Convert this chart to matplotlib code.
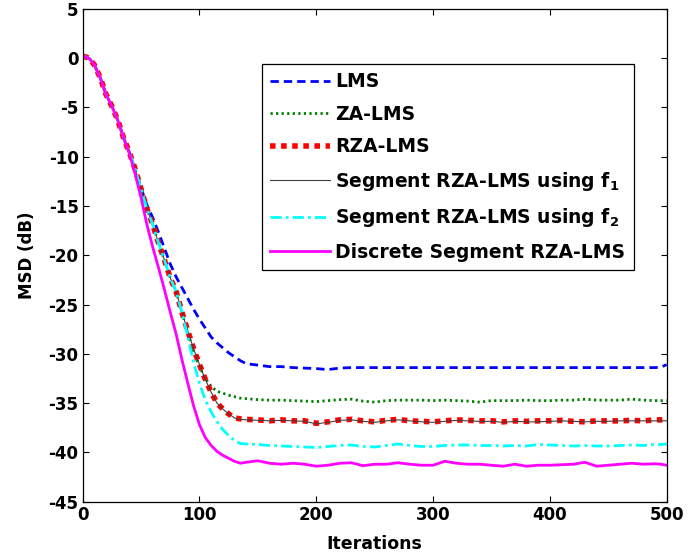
import matplotlib
matplotlib.use("Agg")
import matplotlib.pyplot as plt

plt.rcParams['font.family'] = ['DejaVu Sans']
plt.rcParams['font.weight'] = 'bold'
plt.rcParams['axes.unicode_minus'] = False
plt.rcParams['mathtext.fontset'] = 'custom'
plt.rcParams['mathtext.rm'] = 'DejaVu Sans:bold'
plt.rcParams['mathtext.bf'] = 'DejaVu Sans:bold'
plt.rcParams['mathtext.it'] = 'DejaVu Sans:bold'

iters = [0, 3, 6, 10, 15, 20, 25, 30, 35, 40, 45, 50, 55, 60, 65, 70, 75, 80, 85, 90,
         95, 100, 105, 110, 115, 120, 125, 130, 135, 140, 150, 160, 170, 180, 190, 200,
         210, 220, 230, 240, 250, 260, 270, 280, 290, 300, 310, 320, 330, 340, 350, 360,
         370, 380, 390, 400, 410, 420, 430, 440, 450, 460, 470, 480, 490, 495, 500]

early = [0.15, 0.1, -0.1, -0.7, -2.0, -3.7, -4.9, -6.3, -8.1, -9.6, -11.3]

lms = early + [-13.2, -14.9, -16.2, -17.7, -19.3, -20.9, -22.2, -23.3, -24.4,
               -25.5, -26.5, -27.4, -28.3, -28.9, -29.4, -29.9, -30.3, -30.7, -31.0,
               -31.15, -31.3, -31.3, -31.4, -31.45, -31.5, -31.6, -31.45, -31.4, -31.4,
               -31.4, -31.4, -31.4, -31.4, -31.4, -31.4, -31.4, -31.4, -31.4, -31.4,
               -31.4, -31.4, -31.4, -31.4, -31.4, -31.4, -31.4, -31.4, -31.4, -31.4,
               -31.4, -31.4, -31.4, -31.4, -31.4, -31.35, -31.1]

za_lms = early + [-13.3, -15.3, -16.9, -18.8, -20.5, -22.3, -23.7, -25.8, -27.9,
                  -29.8, -31.3, -32.5, -33.3, -33.8, -34.0, -34.2, -34.35, -34.5, -34.55,
                  -34.65, -34.7, -34.7, -34.75, -34.8, -34.85, -34.75, -34.65, -34.6, -34.8,
                  -34.9, -34.75, -34.7, -34.7, -34.7, -34.75, -34.7, -34.75, -34.8, -34.9,
                  -34.75, -34.75, -34.75, -34.7, -34.75, -34.75, -34.7, -34.7, -34.6, -34.7,
                  -34.7, -34.7, -34.6, -34.7, -34.75, -34.75, -34.75]

rza_lms = early + [-13.3, -15.3, -16.9, -18.8, -20.5, -22.3, -23.7, -25.8, -27.7,
                   -29.5, -31.1, -32.6, -33.9, -35.0, -35.6, -36.1, -36.5, -36.6, -36.65,
                   -36.7, -36.8, -36.7, -36.8, -36.8, -37.05, -36.9, -36.7, -36.65, -36.8,
                   -36.9, -36.75, -36.65, -36.8, -36.85, -36.9, -36.8, -36.7, -36.75, -36.8,
                   -36.8, -36.9, -36.8, -36.85, -36.8, -36.8, -36.75, -36.85, -36.9, -36.8,
                   -36.8, -36.8, -36.75, -36.8, -36.7, -36.7, -36.65]

seg_f1 = early + [-13.3, -15.3, -16.9, -18.8, -20.5, -22.3, -23.7, -25.8, -27.7,
                  -29.5, -31.1, -32.6, -33.9, -35.0, -35.6, -36.1, -36.5, -36.65, -36.7,
                  -36.75, -36.8, -36.75, -36.8, -36.85, -37.1, -36.95, -36.75, -36.7, -36.85,
                  -36.95, -36.8, -36.7, -36.8, -36.9, -36.95, -36.85, -36.75, -36.8, -36.85,
                  -36.85, -36.95, -36.85, -36.9, -36.9, -36.85, -36.8, -36.85, -36.9, -36.85,
                  -36.85, -36.8, -36.8, -36.8, -36.8, -36.8, -36.8]

seg_f2 = early + [-13.3, -15.3, -16.9, -18.8, -20.5, -22.3, -23.7, -25.8, -28.3,
                  -30.9, -33.0, -34.7, -35.9, -36.9, -37.7, -38.3, -38.8, -39.1, -39.15,
                  -39.2, -39.3, -39.35, -39.4, -39.45, -39.5, -39.4, -39.3, -39.25, -39.4,
                  -39.45, -39.3, -39.15, -39.3, -39.4, -39.4, -39.3, -39.25, -39.25, -39.3,
                  -39.3, -39.35, -39.3, -39.35, -39.2, -39.25, -39.3, -39.35, -39.3, -39.35,
                  -39.35, -39.3, -39.25, -39.3, -39.2, -39.2, -39.15]

discrete = early[:-2] + [-9.7, -11.8, -14.2, -16.9, -19.2, -21.3, -23.5, -25.8, -28.0,
                         -30.6, -33.0, -35.3, -37.2, -38.5, -39.3, -39.9, -40.3, -40.6,
                         -40.9, -41.1, -41.0, -40.85, -41.1, -41.2, -41.1, -41.2, -41.4,
                         -41.3, -41.1, -41.05, -41.35, -41.2, -41.2, -41.05, -41.2, -41.3,
                         -41.3, -40.9, -41.1, -41.2, -41.2, -41.3, -41.4, -41.2, -41.4,
                         -41.3, -41.3, -41.25, -41.2, -41.0, -41.4, -41.3, -41.2, -41.1,
                         -41.2, -41.15, -41.2, -41.3]

labels = ['LMS', 'ZA-LMS', 'RZA-LMS',
          r'Segment RZA-LMS using f$_{1}$',
          r'Segment RZA-LMS using f$_{2}$',
          'Discrete Segment RZA-LMS']

xticks = [0, 100, 200, 300, 400, 500]
yticks = [5, 0, -5, -10, -15, -20, -25, -30, -35, -40, -45]

fig = plt.figure(figsize=(6.88, 5.58), dpi=100)
ax = fig.add_axes([0.1202, 0.1009, 0.8488, 0.8835])

ax.plot(iters, lms, color='#0000ff', linestyle=(0, (3.0, 1.8)), linewidth=2, label=labels[0])
ax.plot(iters, za_lms, color='#007f00', linestyle=(0, (0.8, 1.2)), linewidth=2, label=labels[1])
ax.plot(iters, rza_lms, color='#ff0000', linestyle=(0, (1.0, 1.0)), linewidth=4, label=labels[2])
ax.plot(iters, seg_f1, color='#404040', linestyle='-', linewidth=0.8, label=labels[3])
ax.plot(iters, seg_f2, color='#00ffff', linestyle=(0, (4.0, 1.5, 1.0, 1.5)), linewidth=2, label=labels[4])
ax.plot(iters, discrete, color='#ff00ff', linestyle='-', linewidth=2, label=labels[5])

ax.set_xlim(0, 500)
ax.set_ylim(-45, 5)
ax.set_xticks(xticks)
ax.set_yticks(yticks)
ax.tick_params(direction='in', length=4, width=0.8, top=True, right=True,
               labelsize=12, pad=3)
for lab in ax.get_xticklabels() + ax.get_yticklabels():
    lab.set_fontweight('bold')
ax.set_xlabel('Iterations', fontsize=12.5, fontweight='bold', labelpad=8)
ax.set_ylabel('MSD (dB)', fontsize=12, fontweight='bold', labelpad=9)
for s in ax.spines.values():
    s.set_linewidth(0.9)

leg = ax.legend(loc='upper left', bbox_to_anchor=(0.307, 0.888), fontsize=13.5,
                frameon=True, fancybox=False, edgecolor='black', framealpha=1,
                handlelength=3.2, handletextpad=0.25, labelspacing=0.72,
                borderpad=0.45, borderaxespad=0)
leg.get_frame().set_linewidth(0.9)
for t in leg.get_texts():
    t.set_fontweight('bold')

fig.savefig('out.png', dpi=100)
